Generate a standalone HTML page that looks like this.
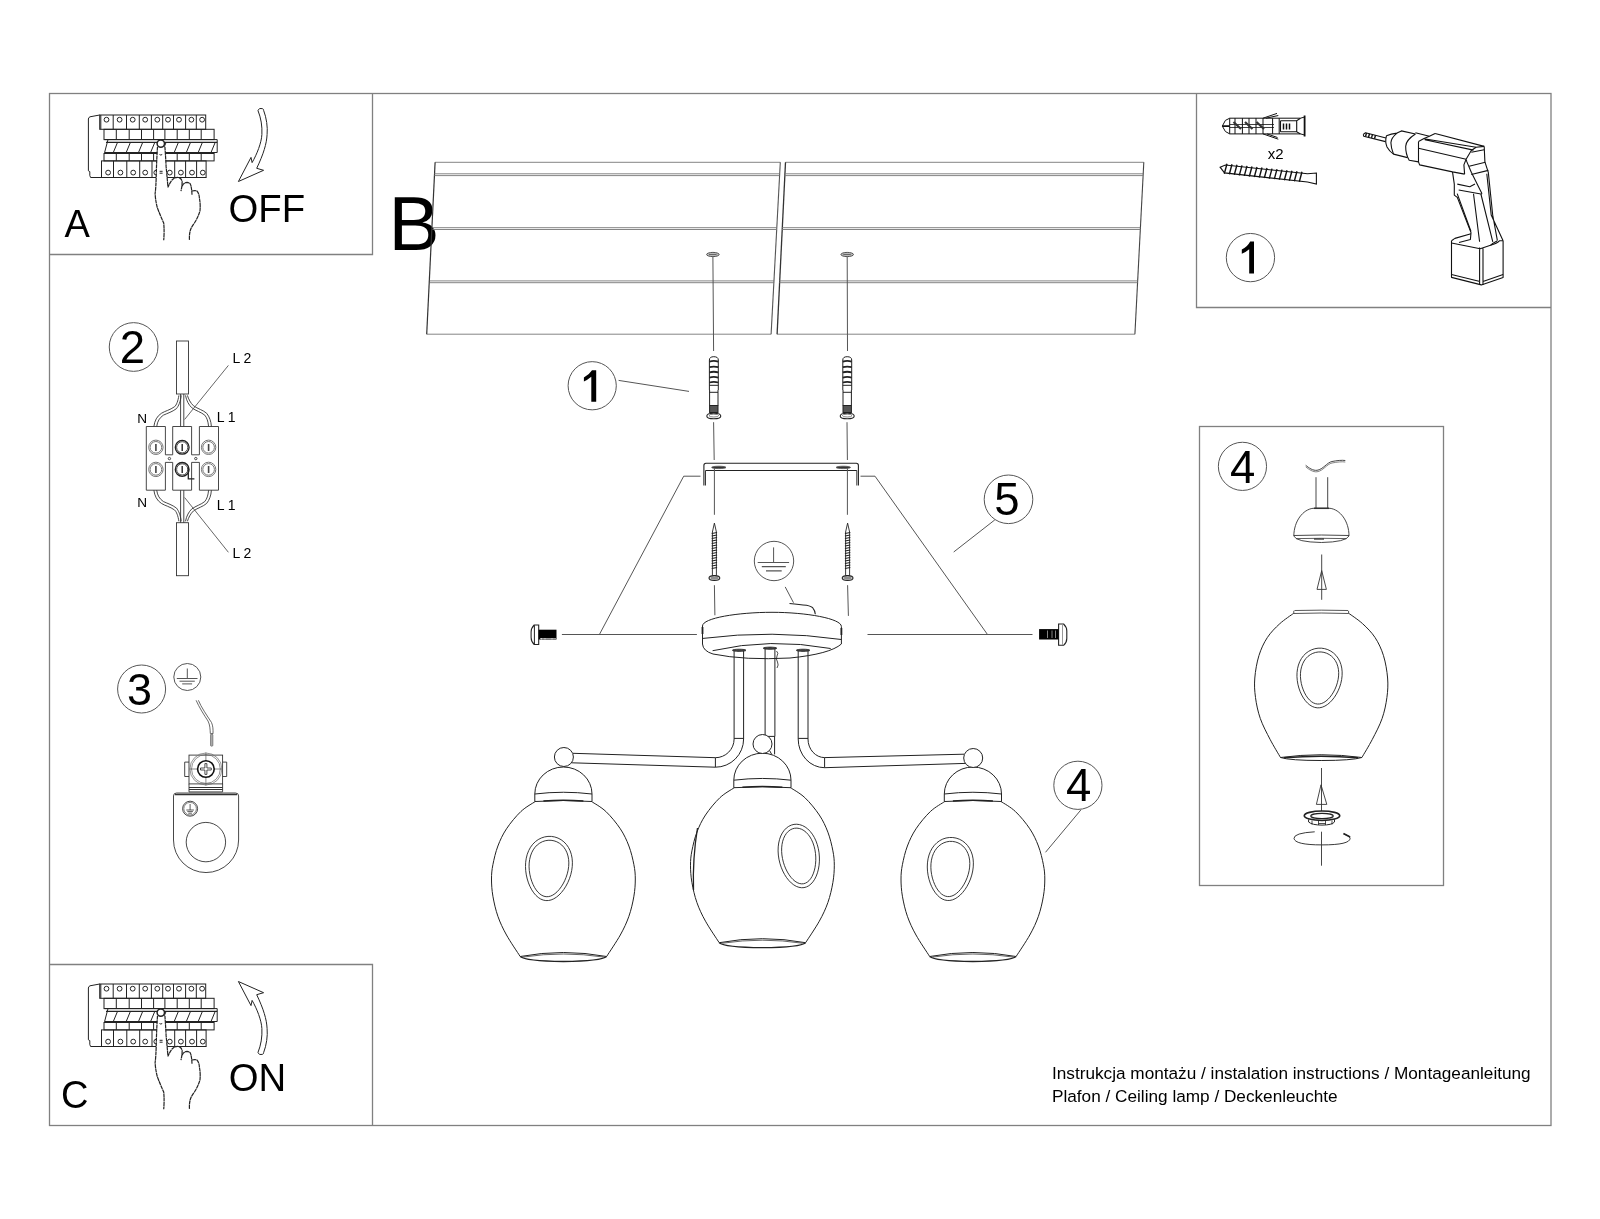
<!DOCTYPE html>
<html><head><meta charset="utf-8">
<style>
html,body{margin:0;padding:0;background:#fff;width:1600px;height:1219px;overflow:hidden}
svg{will-change:transform}
svg{display:block;fill:none;stroke-width:1}
text{font-family:"Liberation Sans",sans-serif;fill:#000;stroke:none}

.f{stroke:#808080;stroke-width:1.3}
.l{stroke:#555}
.d{stroke:#222}
.t{stroke:#666;stroke-width:0.8}
</style></head>
<body>
<svg width="1600" height="1219" viewBox="0 0 1600 1219">
<!-- frame -->
<rect class="f" x="49.5" y="93.5" width="1501.5" height="1032"/>
<path class="f" d="M372.5 93.5V254.5H49.5"/>
<path class="f" d="M49.5 964.5H372.5V1125.5"/>
<path class="f" d="M1196.5 93.5V307.5H1551"/>
<rect class="f" x="1199.5" y="426.5" width="244" height="459"/>

<!-- text -->
<text x="64.5" y="237.3" font-size="38">A</text>
<text x="61" y="1107.8" font-size="38">C</text>
<text x="228.5" y="222" font-size="38.3">OFF</text>
<text x="228.8" y="1091.2" font-size="38.3">ON</text>
<text x="388.5" y="249.7" font-size="76.5">B</text>
<text x="1052" y="1078.5" font-size="17.2">Instrukcja montażu / instalation instructions / Montageanleitung</text>
<text x="1052" y="1102" font-size="17.2">Plafon / Ceiling lamp / Deckenleuchte</text>

<!-- panel -->
<g id="pnl">
<path class="d" d="M99.7 115L90 116.8Q88.4 117.5 88.4 119V170.8L89.8 171.6V175.5L90.6 177.5H206.1"/>
<rect class="d" x="99.7" y="115" width="106" height="14.3"/>
<path class="d" d="M113.2 115V129.3"/>
<path class="d" d="M126.5 115V129.3"/>
<path class="d" d="M139.3 115V129.3"/>
<path class="d" d="M151.4 115V129.3"/>
<path class="d" d="M162.7 115V129.3"/>
<path class="d" d="M173.5 115V129.3"/>
<path class="d" d="M185.6 115V129.3"/>
<path class="d" d="M196.3 115V129.3"/>
<path class="d" d="M100.8 115V129.3"/>
<circle class="d" cx="106.5" cy="119.7" r="2.4"/>
<circle class="d" cx="119.6" cy="119.7" r="2.4"/>
<circle class="d" cx="132.7" cy="119.7" r="2.4"/>
<circle class="d" cx="145.2" cy="119.7" r="2.4"/>
<circle class="d" cx="157.3" cy="119.7" r="2.4"/>
<circle class="d" cx="168" cy="119.7" r="2.4"/>
<circle class="d" cx="179" cy="119.7" r="2.4"/>
<circle class="d" cx="191.4" cy="119.7" r="2.4"/>
<circle class="d" cx="202.1" cy="119.7" r="2.4"/>
<rect class="d" x="104" y="129.3" width="110.1" height="10.3"/>
<path class="d" d="M116.3 129.3V139.6"/>
<path class="d" d="M129.2 129.3V139.6"/>
<path class="d" d="M141.5 129.3V139.6"/>
<path class="d" d="M153.6 129.3V139.6"/>
<path class="d" d="M164.9 129.3V139.6"/>
<path class="d" d="M177.2 129.3V139.6"/>
<path class="d" d="M189.3 129.3V139.6"/>
<path class="d" d="M201.2 129.3V139.6"/>
<path class="d" d="M104.6 139.6H217.2V152.5H104.6"/>
<path class="d" d="M106 142.4H217.2" stroke-width="1.4"/>
<path class="d" d="M104.6 152.8H214.1" stroke-width="1.6"/>
<path class="d" d="M108 139.6L104.6 152.5"/>
<path class="d" d="M117.5 142.4L113.3 152.5"/>
<path class="d" d="M130.39999999999998 142.4L126.19999999999999 152.5"/>
<path class="d" d="M142.7 142.4L138.5 152.5"/>
<path class="d" d="M154.79999999999998 142.4L150.6 152.5"/>
<path class="d" d="M166.1 142.4L161.9 152.5"/>
<path class="d" d="M178.39999999999998 142.4L174.2 152.5"/>
<path class="d" d="M190.5 142.4L186.3 152.5"/>
<path class="d" d="M202.39999999999998 142.4L198.2 152.5"/>
<path class="d" d="M215.2 142.4L211 152.5"/>
<rect class="d" x="104" y="153.5" width="110.1" height="7.4"/>
<path class="d" d="M116.3 153.5V160.9"/>
<path class="d" d="M129.2 153.5V160.9"/>
<path class="d" d="M141.5 153.5V160.9"/>
<path class="d" d="M153.6 153.5V160.9"/>
<path class="d" d="M164.9 153.5V160.9"/>
<path class="d" d="M177.2 153.5V160.9"/>
<path class="d" d="M189.3 153.5V160.9"/>
<path class="d" d="M201.2 153.5V160.9"/>
<rect class="d" x="101.5" y="160.9" width="104.6" height="16.6"/>
<path class="d" d="M113.5 160.9V177.5"/>
<path class="d" d="M126.8 160.9V177.5"/>
<path class="d" d="M139.7 160.9V177.5"/>
<path class="d" d="M152 160.9V177.5"/>
<path class="d" d="M163.7 160.9V177.5"/>
<path class="d" d="M174.7 160.9V177.5"/>
<path class="d" d="M185.6 160.9V177.5"/>
<path class="d" d="M196.6 160.9V177.5"/>
<circle class="d" cx="108.1" cy="172.6" r="2.4"/>
<circle class="d" cx="120.4" cy="172.6" r="2.4"/>
<circle class="d" cx="133.2" cy="172.6" r="2.4"/>
<circle class="d" cx="145.2" cy="172.6" r="2.4"/>
<circle class="d" cx="156.3" cy="172.6" r="2.4"/>
<circle class="d" cx="169.8" cy="172.6" r="2.4"/>
<circle class="d" cx="180.9" cy="172.6" r="2.4"/>
<circle class="d" cx="192" cy="172.6" r="2.4"/>
<circle class="d" cx="202.8" cy="172.6" r="2.4"/>
<path fill="#fff" stroke="none" d="M157.5 146.8L156.3 173.8L155.1 193.5L157.5 208.3L163.7 223V240.3H189.5L190.7 229.2L194.4 223L200 210.7L199.4 198.4L196.9 191L192 191L190.7 184.9L187 182.4L182.1 186.1L182.1 181.2L178.4 177.5L173.5 178.7L168 187.4L166.1 166.4L164.9 146.8Z"/>
<path class="d" stroke-dasharray="4 0.4" stroke-width="1.2" d="M157.5 146.8Q156.6 160 156.3 173.8T155.1 193.5Q155.5 201 157.5 208.3Q160.5 216 163.7 223Q164.5 231 163.7 240.3"/>
<path class="d" stroke-dasharray="4 0.4" stroke-width="1.2" d="M164.9 146.8Q165.6 156 166.1 166.4L168 187.4Q170.5 181 173.5 178.7Q176 177 178.4 177.5Q181.5 178.5 182.1 181.2Q182.3 186 180.9 191.1"/>
<path class="d" stroke-dasharray="4 0.4" stroke-width="1.2" d="M182.1 186.1Q184 182.6 187 182.4Q190.3 182.8 190.7 184.9Q191.8 189 192 194.7"/>
<path class="d" stroke-dasharray="4 0.4" stroke-width="1.2" d="M192 191Q195 190.2 196.9 191Q199.3 193.5 199.4 198.4Q200.6 204 200 210.7Q198.3 217 194.4 223Q191.6 227 190.7 229.2Q189 234 189.5 240.3"/>
<circle fill="#fff" class="d" cx="160.8" cy="143.6" r="3.7" stroke-width="1.5"/>
<path class="d" d="M159.5 154.5Q160.8 155.6 162.2 154.5"/>
<path class="d" d="M159.6 171.3H162.6M159.6 173.2H162.6"/>
</g>
<use href="#pnl" transform="translate(0,869)"/>

<!-- arrows -->
<path id="arr" class="d" d="M257.9 110.3Q259.5 107.6 262.3 108.6Q263.9 109.3 263.6 110.3C266.5 118 267.8 127 267.1 134.4C266.6 144 263.5 154 256.7 168.3L263.6 170.3L238.4 181.5L251 157.4L252.1 162.6C257 154 261.4 143 261.9 134.4C262.3 126 261 118 257.9 110.3Z"/>
<use href="#arr" transform="translate(0,1163) scale(1,-1)"/>

<!-- ceiling -->
<g stroke="#777" stroke-width="0.9">
<path d="M435.1 162.3H780.3M426.7 334.2H771.1"/>
<path d="M435.1 162.3L426.7 334.2" stroke="#333" stroke-width="1.2"/>
<path d="M780.3 162.3L771.1 334.2" stroke="#555" stroke-width="1.1"/>
<path d="M785.5 162.3H1143.8M777.1 334.2H1134.9"/>
<path d="M1143.8 162.3L1134.9 334.2" stroke="#444" stroke-width="1.1"/>
<path d="M785.5 162.3L777.1 334.2" stroke="#333" stroke-width="1.3"/>
<path d="M434.4 173.8H779.7M434.4 175.6H779.6M784.9 173.8H1143.2M784.8 175.6H1143.1"/>
<path d="M432.5 227.7H777M432.5 229.5H777M782.1 227.7H1140.4M782.1 229.5H1140.4"/>
<path d="M429.9 280.9H774.2M429.9 282.7H774.2M779.3 280.9H1137.7M779.3 282.7H1137.7"/>
</g>
<ellipse cx="712.9" cy="254.5" rx="6.3" ry="2.1" fill="#bbb" stroke="#444" stroke-width="0.9"/>
<path d="M709 254.5H716.5" stroke="#444" stroke-width="0.7"/>
<ellipse cx="847.2" cy="254.5" rx="6.3" ry="2.1" fill="#bbb" stroke="#444" stroke-width="0.9"/>
<path d="M843.3 254.5H850.8" stroke="#444" stroke-width="0.7"/>
<path class="l" d="M712.9 256.6L713.6 351M847.2 256.6L847.5 351"/>

<!-- anchors -->
<g id="anc">
<path class="d" d="M709.4 390V360Q709.4 356.7 713.8 356.7Q718.3 356.7 718.3 360V390" stroke-width="1"/>
<path class="d" d="M709.4 361.6Q713.8 360.3 718.3 361.6M709.4 367.2Q713.8 365.9 718.3 367.2M709.4 372.4Q713.8 371.1 718.3 372.4M709.4 377.6Q713.8 376.3 718.3 377.6M709.4 382.5Q713.8 381.2 718.3 382.5" stroke-width="1.8"/>
<path class="d" d="M709.4 385.3H718.3M709.6 392.3H718"/>
<path class="d" d="M709.6 390V405.5M718 390V405.5"/>
<rect x="709.6" y="405.5" width="8.4" height="7" fill="#555" stroke="#222" stroke-width="1"/>
<ellipse class="d" cx="713.8" cy="416" rx="7" ry="2.8" fill="#fff" stroke-width="1.1"/>
<ellipse class="t" cx="713.8" cy="415.6" rx="4.8" ry="1.4"/>
</g>
<use href="#anc" transform="translate(133.4,0)"/>
<path class="l" d="M713.6 422.2L714.2 460M847 422.2L847.4 460"/>
<path class="l" d="M618.6 380.4L689 391.4"/>
<circle class="l" cx="592.2" cy="385.75" r="24.1"/>
<path d="M592 370.3H596.2V401.8H591.3V376.7Q587.5 379.8 583.9 381.6V377.4Q589 375 592 370.3Z" fill="#000"/>

<!-- bracket -->
<path class="d" d="M703.9 485.5V465.5Q703.9 463.3 706 463.3H856.3Q858.4 463.3 858.4 465.5V485.5" stroke-width="1.1"/>
<path class="d" d="M705.5 485.5V470.5H856.8V485.5" stroke-width="0.9"/>
<path class="d" d="M706 470.5H856.3"/>
<ellipse cx="718.8" cy="467.4" rx="7.2" ry="1.2" fill="#333" stroke="#555" stroke-width="0.8"/>
<ellipse cx="843.3" cy="467.4" rx="7.2" ry="1.2" fill="#333" stroke="#555" stroke-width="0.8"/>
<path class="l" d="M714.4 468.3V514.8M847.4 468.3V514.8"/>
<path class="l" d="M700.5 476.2H683.7L599.4 634.5M561.9 634.5H696.9"/>
<path class="l" d="M860.5 476.2H875L987.5 634.5M867.5 634.5H1032.5"/>
<g id="scr">
<path class="d" d="M712.4 532L714.4 523.1L716.4 532V575.5H712.4Z" stroke-width="0.9"/>
<path class="d" d="M711.7 533.5L717.1 532.5M711.7 536L717.1 535M711.7 538.5L717.1 537.5M711.7 541L717.1 540M711.7 543.5L717.1 542.5M711.7 546L717.1 545M711.7 548.5L717.1 547.5M711.7 551L717.1 550M711.7 553.5L717.1 552.5M711.7 556L717.1 555M711.7 558.5L717.1 557.5M711.7 561L717.1 560M711.7 563.5L717.1 562.5M711.7 566L717.1 565M711.7 568.5L717.1 567.5" stroke-width="1.2"/>
<ellipse cx="714.4" cy="578" rx="5.4" ry="2.4" fill="#ccc" stroke="#222" stroke-width="1.1"/>
<path d="M711 578H718" stroke="#333" stroke-width="0.8"/>
</g>
<use href="#scr" transform="translate(133.2,0)"/>
<path class="l" d="M714.4 585.2L714.9 615.3M847.6 585.2L848.4 615.9"/>
<circle class="l" cx="1008.5" cy="499.3" r="24.3"/>
<text x="994.2" y="515" font-size="45.5">5</text>
<path class="l" d="M994.8 519.9L953.7 552"/>
<path class="d" d="M538.7 625H534.2Q531.1 628 531.1 632V637.5Q531.1 641.5 534.2 644.5H538.7Z" stroke-width="1.1"/>
<path class="d" d="M534.4 625.2V644.3"/>
<rect x="538.7" y="629.7" width="17.8" height="9.8" fill="#000"/>
<path d="M540 638.5H556M541.5 638V639.5M545 638V639.5M552 638V639.5" stroke="#fff" stroke-width="0.6"/>
<path class="d" d="M1058.6 624H1063.6Q1066.8 627 1066.8 631V638.5Q1066.8 642.5 1063.6 645.3H1058.6Z" stroke-width="1.1"/>
<path d="M1062.5 624.5V645" stroke="#999" stroke-width="1"/>
<rect x="1039.1" y="629.1" width="19.5" height="10.4" fill="#000"/>
<path d="M1047.5 630.5V638M1052 630.5V638M1055.5 630.5V638" stroke="#bbb" stroke-width="0.7"/>
<circle class="l" cx="774" cy="561" r="19.7"/>
<path class="l" d="M773.6 547.4V562.5M757.7 562.5H789.1"/>
<path class="l" d="M761.8 566.7H785.8M766 570.8H781.7" stroke-width="1.3"/>
<path class="l" d="M785.2 586.9L793.5 602.7"/>
<path class="d" d="M789.5 603.5Q800 604.5 806.5 605.3Q812 606.5 813.1 608.3Q815.3 611 815.3 614.2" stroke-width="1.1"/>

<!-- canopy -->
<path class="d" d="M702.5 644V626C702.5 618 738 612.3 772 612.3C806 612.3 841.4 618.5 841.4 626.5V644"/>
<path class="d" d="M703 638.4Q772 629.5 841.4 639.5"/>
<path class="d" d="M702.5 644Q703 651 713 654Q745 660.5 790 658Q830 654 841.4 644"/>
<path class="d" d="M712.6 650.7Q770 637.5 830.7 648.5"/>
<path class="d" d="M702.5 627V634M841.4 628V635" stroke-width="1.8"/>
<path class="d" d="M734.1 650V739A18.7 18.7 0 0 1 715.4 757.7L573 753.3"/>
<path class="d" d="M743.6 650V739A28.2 28.2 0 0 1 715.4 767.2L571.6 762.8"/>
<path class="d" d="M715.4 757.7V767.2M734.1 738.4H743.6"/>
<path class="d" d="M808 650V739A16.6 18.6 0 0 0 824.6 757.6L964.1 754.2"/>
<path class="d" d="M798.2 650V739A26.4 28.7 0 0 0 824.6 767.7L965.5 763.4"/>
<path class="d" d="M824.6 757.6V767.7M798.2 738.4H808"/>
<path class="d" d="M765.1 647.5V736M774.9 647.5V736.4H767.7M774.6 736.4V754.4M769.4 750.2L771.7 754.4"/>
<path class="d" d="M776.5 651Q779 653 777 656Q775.5 659 777.5 662Q779 665 777 668" stroke-width="0.8"/>
<ellipse cx="739.2" cy="650.3" rx="6.8" ry="1.1" fill="#444" stroke="#222" stroke-width="0.8"/>
<ellipse cx="770" cy="648.2" rx="6.8" ry="1.1" fill="#444" stroke="#222" stroke-width="0.8"/>
<ellipse cx="803.1" cy="650.3" rx="6.8" ry="1.1" fill="#444" stroke="#222" stroke-width="0.8"/>
<defs><g id="shd"><path class="d" d="M-28.10 8.00C-30.50 9.67 -37.70 13.45 -42.50 18.00C-47.30 22.55 -53.07 29.55 -56.90 35.30C-60.73 41.05 -63.23 46.52 -65.50 52.50C-67.77 58.48 -69.43 65.70 -70.50 71.20C-71.57 76.70 -71.90 80.25 -71.90 85.50C-71.90 90.75 -71.57 96.48 -70.50 102.70C-69.43 108.92 -67.77 116.33 -65.50 122.80C-63.23 129.27 -60.62 134.80 -56.90 141.50C-53.18 148.20 -45.48 159.42 -43.20 163.00"/><path class="d" d="M43.20 163.00C45.48 159.42 53.18 148.20 56.90 141.50C60.62 134.80 63.23 129.27 65.50 122.80C67.77 116.33 69.43 108.92 70.50 102.70C71.57 96.48 71.90 90.75 71.90 85.50C71.90 80.25 71.57 76.70 70.50 71.20C69.43 65.70 67.77 58.48 65.50 52.50C63.23 46.52 60.73 41.05 56.90 35.30C53.07 29.55 47.30 22.55 42.50 18.00C37.70 13.45 30.50 9.67 28.10 8.00"/><path class="d" d="M-28.6 0.5A28.6 27 0 0 1 28.6 0.5"/><path class="d" d="M-28.6 0.5Q0 -3 28.6 0.5M-28.6 8Q0 6 28.6 8M-28.6 0.5V8M28.6 0.5V8"/><path class="d" d="M-20 7.5Q0 6 20 7.5" stroke-width="1.5"/><path class="d" d="M-43.2 163Q0 155 43.2 163"/><path class="d" d="M-40 163.5Q0 157.5 40 163.5" stroke-width="0.7"/><path class="d" d="M-43.2 163Q-38 167.5 0 168Q38 167.5 43.2 163" stroke-width="1.3"/></g></defs>
<use href="#shd" transform="translate(563.4,793.5)"/>
<use href="#shd" transform="translate(762.4,779.7)"/>
<use href="#shd" transform="translate(972.9,793.5)"/>
<circle cx="563.9" cy="757" r="9.5" fill="#fff" class="d"/>
<circle cx="762.5" cy="744" r="9.5" fill="#fff" class="d"/>
<circle cx="973.2" cy="758" r="9.5" fill="#fff" class="d"/>
<path class="d" stroke-width="0.9" d="M571.71 870.52 L570.76 874.66 L569.45 878.69 L567.82 882.55 L565.91 886.18 L563.78 889.50 L561.46 892.48 L558.99 895.05 L556.42 897.18 L553.79 898.82 L551.12 899.94 L548.45 900.53 L545.79 900.58 L543.19 900.07 L540.66 899.03 L538.22 897.45 L535.91 895.38 L533.76 892.84 L531.78 889.88 L530.01 886.55 L528.48 882.90 L527.24 879.00 L526.30 874.91 L525.71 870.72 L525.49 866.48 L525.66 862.27 L526.25 858.18 L527.26 854.26 L528.69 850.60 L530.52 847.24 L532.74 844.26 L535.31 841.69 L538.17 839.60 L541.29 838.00 L544.58 836.93 L547.98 836.40 L551.41 836.42 L554.79 836.99 L558.04 838.10 L561.10 839.73 L563.89 841.84 L566.35 844.41 L568.43 847.38 L570.10 850.70 L571.32 854.33 L572.09 858.19 L572.40 862.22 L572.27 866.35Z"/>
<path class="d" stroke-width="0.9" d="M568.13 870.21 L567.26 873.84 L566.09 877.38 L564.66 880.78 L563.01 883.96 L561.17 886.89 L559.20 889.51 L557.12 891.78 L554.96 893.66 L552.76 895.11 L550.54 896.11 L548.32 896.64 L546.13 896.69 L543.99 896.26 L541.90 895.35 L539.88 893.98 L537.97 892.17 L536.17 889.95 L534.51 887.36 L533.02 884.43 L531.73 881.23 L530.65 877.80 L529.83 874.21 L529.30 870.52 L529.07 866.79 L529.18 863.09 L529.65 859.49 L530.47 856.04 L531.66 852.81 L533.20 849.86 L535.07 847.23 L537.26 844.97 L539.71 843.12 L542.37 841.71 L545.20 840.76 L548.12 840.29 L551.07 840.31 L553.97 840.81 L556.77 841.77 L559.39 843.20 L561.77 845.05 L563.86 847.30 L565.62 849.90 L567.01 852.82 L568.01 855.99 L568.62 859.38 L568.83 862.92 L568.66 866.55Z"/>
<path class="d" stroke-width="0.9" d="M819.05 852.82 L819.40 857.00 L819.41 861.15 L819.09 865.22 L818.43 869.12 L817.47 872.80 L816.22 876.18 L814.69 879.22 L812.93 881.85 L810.94 884.04 L808.77 885.75 L806.45 886.94 L804.01 887.61 L801.48 887.73 L798.90 887.31 L796.31 886.36 L793.74 884.89 L791.25 882.93 L788.86 880.51 L786.62 877.68 L784.57 874.48 L782.75 870.97 L781.18 867.21 L779.90 863.25 L778.95 859.18 L778.34 855.04 L778.09 850.93 L778.21 846.89 L778.70 843.02 L779.56 839.36 L780.78 835.98 L782.34 832.94 L784.21 830.28 L786.35 828.07 L788.72 826.33 L791.29 825.10 L793.99 824.39 L796.78 824.23 L799.60 824.61 L802.40 825.53 L805.12 826.97 L807.72 828.92 L810.14 831.33 L812.34 834.16 L814.30 837.38 L815.96 840.91 L817.32 844.71 L818.35 848.71Z"/>
<path class="d" stroke-width="0.9" d="M815.49 853.39 L815.78 857.06 L815.78 860.71 L815.51 864.27 L814.98 867.69 L814.20 870.91 L813.19 873.87 L811.97 876.52 L810.55 878.81 L808.97 880.71 L807.23 882.18 L805.36 883.20 L803.40 883.75 L801.35 883.83 L799.27 883.44 L797.16 882.58 L795.06 881.26 L793.00 879.52 L791.02 877.38 L789.15 874.88 L787.41 872.06 L785.85 868.97 L784.49 865.66 L783.37 862.19 L782.51 858.61 L781.92 854.99 L781.64 851.39 L781.67 847.86 L782.02 844.46 L782.68 841.27 L783.65 838.31 L784.91 835.66 L786.45 833.35 L788.22 831.42 L790.20 829.91 L792.34 828.85 L794.60 828.25 L796.94 828.12 L799.31 828.47 L801.66 829.29 L803.94 830.58 L806.11 832.30 L808.13 834.44 L809.97 836.94 L811.59 839.78 L812.96 842.90 L814.08 846.25 L814.93 849.76Z"/>
<path class="d" stroke-width="0.9" d="M972.71 870.99 L971.78 875.05 L970.49 879.00 L968.89 882.79 L967.01 886.35 L964.92 889.62 L962.64 892.54 L960.22 895.06 L957.69 897.14 L955.10 898.75 L952.48 899.86 L949.85 900.44 L947.25 900.48 L944.69 899.98 L942.20 898.96 L939.81 897.41 L937.54 895.38 L935.41 892.89 L933.47 889.98 L931.73 886.71 L930.23 883.13 L929.01 879.30 L928.09 875.29 L927.50 871.17 L927.29 867.01 L927.46 862.89 L928.04 858.87 L929.03 855.03 L930.43 851.43 L932.23 848.14 L934.41 845.21 L936.93 842.69 L939.75 840.63 L942.81 839.06 L946.04 838.01 L949.38 837.50 L952.75 837.52 L956.08 838.08 L959.28 839.17 L962.28 840.77 L965.02 842.84 L967.44 845.36 L969.48 848.27 L971.12 851.54 L972.33 855.09 L973.08 858.88 L973.39 862.84 L973.26 866.89Z"/>
<path class="d" stroke-width="0.9" d="M969.13 870.67 L968.28 874.23 L967.13 877.70 L965.73 881.02 L964.11 884.14 L962.32 887.00 L960.38 889.57 L958.34 891.79 L956.23 893.63 L954.07 895.05 L951.90 896.02 L949.73 896.54 L947.59 896.59 L945.48 896.17 L943.43 895.28 L941.46 893.94 L939.59 892.17 L937.83 889.99 L936.20 887.45 L934.74 884.59 L933.47 881.46 L932.42 878.10 L931.62 874.59 L931.09 870.98 L930.87 867.33 L930.98 863.71 L931.43 860.18 L932.24 856.81 L933.40 853.64 L934.91 850.75 L936.75 848.18 L938.89 845.97 L941.28 844.16 L943.90 842.78 L946.66 841.85 L949.53 841.39 L952.41 841.41 L955.26 841.89 L958.00 842.84 L960.56 844.24 L962.90 846.05 L964.94 848.25 L966.67 850.80 L968.03 853.65 L969.01 856.76 L969.61 860.07 L969.82 863.54 L969.65 867.09Z"/>
<path class="d" d="M697.5 828Q692.5 858 693.5 890" stroke-width="1.3"/>
<circle class="l" cx="1077.9" cy="785.3" r="24.1"/>
<text x="1066.1" y="801" font-size="45.5">4</text>
<path class="l" d="M1080.9 809.9L1045.5 852.3"/>
<!-- box1 -->
<!-- wall plug -->
<g stroke="#111" fill="none" stroke-width="1">
<path d="M1229.7 118.2H1300.5M1229.7 133.9H1300.5M1229.7 118.2L1225.4 120.4L1222.3 126.1L1225.4 131.5L1229.7 133.9"/>
<path d="M1222.3 126.1H1229.7M1304.6 115.6V136.6" stroke-width="1.8"/>
<path d="M1300.5 118.2L1304.6 117M1300.5 133.9L1304.6 135"/>
<path d="M1229.7 118.2V133.9M1235 118.2V133.9M1242.4 118.2V133.9M1249 118.2V133.9M1256 118.2V133.9M1263 118.2V133.9M1272.6 118.2V133.9M1279.2 118.2V133.9"/>
<path d="M1229.7 124.5H1274M1229.7 127.5H1274" stroke-width="0.8"/>
<path d="M1233.5 122L1241 129M1245 122L1252.5 129M1256.5 122L1264 129" stroke-width="2.2" stroke="#333"/>
<path d="M1263 118.2L1277 113.4M1266 118.2L1278.3 115.5M1263 133.9L1278.3 139.2M1267 133.9L1277.5 137.5"/>
<path d="M1280.5 120.8H1296.7L1300.5 118.2M1280.5 131.8H1296.7L1300.5 133.9M1296.7 120.8V131.8M1280.5 120.8V131.8" stroke-width="1.1"/>
<path d="M1283.5 123.5V129.5M1286.5 123.5V129.5M1289.5 123.5V129.5" stroke-width="1.5"/>
</g>
<text x="1267.7" y="158.7" font-size="15">x2</text>
<!-- screw -->
<g stroke="#111" fill="none">
<path d="M1220.1 167.2L1225.4 165L1307.5 173.8L1316.4 173V184L1307.5 182L1224.5 172.9Z" stroke-width="1.1"/>
<path d="M1227 163.8L1224.3 173.8M1232 164.3L1229.3 174.3M1237 164.8L1234.3 174.8M1242 165.4L1239.3 175.4M1247 165.9L1244.3 175.9M1252 166.5L1249.3 176.5M1257 167L1254.3 177M1262 167.5L1259.3 177.5M1267 168L1264.3 178M1272 168.6L1269.3 178.6M1277 169.1L1274.3 179.1M1282 169.6L1279.3 179.6M1287 170.2L1284.3 180.2M1292 170.7L1289.3 180.7M1297 171.2L1294.3 181.2M1302 171.8L1299.3 181.8" stroke-width="1.4"/>
</g>
<!-- label 1 -->
<circle class="l" cx="1250.45" cy="257.6" r="24.15"/>
<path d="M1250.2 241.5H1254V273.5H1249.2V249.3Q1245.8 252.3 1241.8 253.8V249.6Q1247.3 247 1250.2 241.5Z" fill="#000"/>
<!-- drill -->
<g stroke="#111" fill="none" stroke-width="1.1" stroke-linejoin="round">
<path d="M1363.3 134.4L1365.5 132.7L1386 138M1363.3 134.4L1363.7 136.2L1385.5 141.6"/>
<path d="M1366.5 133L1365.5 136.5M1369.5 133.7L1368.5 137.2M1372.5 134.4L1371.5 137.9M1375.5 135.2L1374.5 138.7" stroke-width="1.4"/>
<path d="M1386.5 135.7Q1391 134 1397 133.1L1401.4 130.9L1415.4 134M1386.5 135.7Q1384.8 142 1387 147Q1389.5 151.5 1393.5 154.1L1407.5 157.6"/>
<path d="M1397 133.1Q1391 138 1390.9 142.7Q1391 148 1393.5 154.1"/>
<path d="M1415.4 134Q1406 140 1405.7 146.2Q1405.5 154 1409.2 160.2L1418.5 161.9"/>
<path d="M1415.4 132.7L1429.4 136.2L1435.1 133.5"/>
<path d="M1418.5 141.6L1424 138.5L1429.4 136.2"/>
<path d="M1435.1 133.5L1484.2 146.4M1424 138.7L1476.1 147.2M1424.8 139.8L1473.5 150.1M1418.5 148.3L1466.1 159.3"/>
<path d="M1418.5 141.6V161.9L1419.6 164.9L1452.5 171.9L1464.6 174.1"/>
<path d="M1466.1 159.3L1471.3 150.5L1476.1 147.2L1484.2 146.4M1471.3 152.3L1484.2 149.7"/>
<path d="M1466.1 159.3L1463.9 164.9L1464.6 174.1M1466.1 159.3L1466.9 161.9L1471.3 172.3L1482 193.7"/>
<path d="M1484.2 146.4L1484.9 161.9L1488.3 172.3L1492.7 215L1497.4 240.7M1486.8 173.7L1491.2 215L1503.1 240.7"/>
<path d="M1469.1 166.3L1485.3 162.3M1471.3 174.5L1488.3 170.4"/>
<path d="M1452.5 171.9L1454.3 184.1V195.1L1457.3 197.4L1471 232.6L1470.4 239.5L1459 242.5"/>
<path d="M1457.3 184.1L1469.8 186.7L1475 184.1M1458.7 190L1480.9 194M1482 193.7L1480.9 194"/>
<path d="M1473.5 193.7L1479.6 241.8M1480.9 194L1492.8 241.8M1457.2 193.6L1471 231.5"/>
<path d="M1451.5 240.7V277.4L1481.3 284.9L1503.1 277.4V240.7"/>
<path d="M1451.5 243L1480.2 248.7L1490.5 245.3Q1497 243.5 1499.7 240.7H1503.1M1454.9 238.4L1471 233.8M1451.5 240.7L1454.9 238.4M1479.6 247.6V284.9M1483 248.6V284.9M1451.5 274.5L1480 281.5M1483 281.5L1503.1 274.5"/>
<path d="M1490.5 245.3Q1493 243 1497 241"/>
</g>

<!-- box2 -->
<circle class="l" cx="133.6" cy="347" r="24.35"/>
<text x="119.7" y="363.2" font-size="45.5">2</text>
<g id="w2h" fill="none" stroke="#333" stroke-width="0.9">
<rect x="176.5" y="341" width="12" height="53" fill="#fff"/>
<path d="M178.9 395.4C178 401 176.5 405 174.6 406.7C170 410 165 411 161.4 413.3C157 416 154.5 421 153.9 426.5"/>
<path d="M181.2 395.4C180.5 402 178.5 406 176.5 408.6C172 412 168 413 163.3 415.2C159.5 418 157.5 421 156.7 426.5"/>
<path d="M185.5 395.4C186.5 401 189 405 191.6 407.6C196 411 201 412 204.8 415.2C207 418 208 421 208.6 426.5"/>
<path d="M187.4 395.4C188.5 399 190.5 403 193.5 405.8C198 409 203 410 206.7 413.3C209.5 417 211 421 211.4 426.5"/>
<path d="M180.6 394V426.5M183.8 394V426.5" stroke-width="0.9"/>
</g>
<use href="#w2h" transform="translate(0,916.7) scale(1,-1)"/>
<g fill="none" stroke="#333" stroke-width="0.9">
<path d="M146.3 426.5H165.4V454.8H172.7V426.5H191.6V454.8H199.4V426.5H218.5V490.2H199.4V462.4H191.6V490.2H172.7V462.4H165.4V490.2H146.3Z"/>
<circle cx="169.4" cy="458.6" r="1.2"/><circle cx="195.8" cy="458.6" r="1.2"/>
</g>
<g fill="none" stroke="#777" stroke-width="1">
<circle cx="155.9" cy="447.3" r="7.2"/><circle cx="155.9" cy="447.3" r="5.8"/>
<circle cx="155.9" cy="469.4" r="7.2"/><circle cx="155.9" cy="469.4" r="5.8"/>
<circle cx="208.6" cy="447.3" r="7.2"/><circle cx="208.6" cy="447.3" r="5.8"/>
<circle cx="208.6" cy="469.4" r="7.2"/><circle cx="208.6" cy="469.4" r="5.8"/>
<path d="M155.9 444V451M155.9 466V473M208.6 444V451M208.6 466V473" stroke="#444" stroke-width="1.6"/>
</g>
<g fill="none" stroke="#222" stroke-width="1.3">
<circle cx="182.2" cy="447.3" r="6.9"/><circle cx="182.2" cy="447.3" r="5.6" stroke-width="0.8"/>
<circle cx="182.2" cy="469.4" r="6.9"/><circle cx="182.2" cy="469.4" r="5.6" stroke-width="0.8"/>
<path d="M182.2 444V451M182.2 466V473" stroke-width="1.4"/>
<path d="M188.3 467V478.9H194.4"/>
</g>
<path class="l" d="M228.4 365.4L184.6 419.5M184.6 497.5L228.4 552.3" stroke-width="0.9"/>
<g font-size="13.6">
<text x="137.3" y="423">N</text>
<text x="137.3" y="507">N</text>
</g>
<g font-size="14">
<text x="216.7" y="421.7">L 1</text>
<text x="216.7" y="510">L 1</text>
<text x="232.4" y="363">L 2</text>
<text x="232.4" y="558">L 2</text>
</g>

<!-- box3 -->
<circle class="l" cx="141.6" cy="689" r="24"/>
<text x="127" y="705" font-size="45">3</text>
<circle class="l" cx="187.3" cy="677" r="13.5"/>
<path class="l" d="M187.3 668.5V678.5M176.8 678.5H197.5M179.5 681.2H194.8M182.2 683.9H192.1"/>
<path d="M196.1 700.3C199 707 204 715 208 721C210 725 210.1 729 210.3 733.5" stroke="#444" stroke-width="0.8"/>
<path d="M198.4 700.3C201 707 207 715.5 211.5 722.5C213 726 213.2 729.5 213 733.8" stroke="#444" stroke-width="0.8"/>
<path d="M210.3 733.8H213" stroke="#333" stroke-width="0.9"/>
<rect x="210.5" y="734.2" width="2.4" height="12" rx="1" fill="#aaa" stroke="#555" stroke-width="0.6"/>
<g fill="none" stroke="#333" stroke-width="0.9">
<rect x="189" y="755.1" width="33.6" height="28.8"/>
<path d="M189 762.1H184.7V776.5H189M222.6 762.1H226.7V776.5H222.6"/>
<circle cx="205.9" cy="769" r="16" stroke="#666" stroke-width="0.7"/>
<circle cx="205.9" cy="769" r="14.4" stroke="#666" stroke-width="0.7"/>
<path d="M205.9 752.5V785.5M189.5 769H222.3" stroke="#555" stroke-width="0.7"/>
<circle cx="205.9" cy="769" r="8.3" stroke="#111" stroke-width="1.6" fill="#fff"/>
<path d="M204.9 763.6H206.9V768H211.3V770H206.9V774.4H204.9V770H200.5V768H204.9Z" stroke="#222" stroke-width="0.8"/>
<path d="M189 783.9V791.9H222.6V783.9"/>
<path d="M189 787.5H222.6M189 789.5H222.6" stroke-width="1.2"/>
<path d="M176.5 793H235.6Q238.6 793 238.6 796V840A32.5 32.5 0 0 1 173.5 840V796Q173.5 793 176.5 793Z"/>
<path d="M175 794.5H237" stroke-width="1.3"/>
<circle cx="205.9" cy="842.1" r="19.7"/>
<circle cx="190.1" cy="808.7" r="7.5"/>
<circle cx="190.1" cy="808.7" r="6.3" stroke-width="0.6"/>
<path d="M190.1 804V810M186.3 810H193.9M187.3 811.6H192.9M188.3 813.2H191.9" stroke-width="0.8"/>
</g>

<!-- box4 -->
<circle class="l" cx="1242.45" cy="466.35" r="24.1"/>
<text x="1230.1" y="482.8" font-size="45.5">4</text>
<g fill="none" stroke="#333" stroke-width="0.9">
<path d="M1305.7 465.3C1309 468 1313 470.8 1317 470.3C1323 469.5 1327 462.5 1332 461.5C1337 460.5 1342 460 1345.3 460.5"/>
<path d="M1305.7 466.8C1309 469.5 1313 472.2 1317 471.8C1323 471 1327 464 1332 463C1337 462 1342 461.5 1345.3 462" stroke-width="0.6"/>
<path d="M1316 477.2V508.3M1327.7 477.2V508.3"/>
<path d="M1293.8 536C1294 521 1303 509.5 1313 508.3H1330C1340 509.5 1349 521 1349 536"/>
<path d="M1314 508.3H1329" stroke-width="1.5"/>
<path d="M1293.8 535.5Q1321.4 534.5 1349 535.5M1293.8 536Q1296 542 1321.4 542.5Q1346 542 1349 536"/>
<path d="M1296 538.6Q1321.4 538 1346.5 538.6" stroke-width="0.8"/>
<path d="M1314 539H1324" stroke-width="1.3"/>
<path d="M1321.7 554.5V599.8M1321.7 570.6L1317 589.4H1326.4Z"/>
<path d="M1321.5 768V820M1321 784.8L1316.4 804.4H1326.8Z"/>
</g>
<path class="d" d="M1293.80 613.20C1291.47 614.95 1284.22 619.63 1279.80 623.70C1275.38 627.77 1270.78 632.27 1267.30 637.60C1263.82 642.93 1260.98 648.97 1258.90 655.70C1256.82 662.43 1255.37 671.02 1254.80 678.00C1254.23 684.98 1254.58 690.85 1255.50 697.60C1256.42 704.35 1257.87 711.53 1260.30 718.50C1262.73 725.47 1266.73 732.90 1270.10 739.40C1273.47 745.90 1278.77 754.48 1280.50 757.50"/>
<path class="d" d="M1361.90 757.50C1363.63 754.48 1368.93 745.90 1372.30 739.40C1375.67 732.90 1379.67 725.47 1382.10 718.50C1384.53 711.53 1385.98 704.35 1386.90 697.60C1387.82 690.85 1388.17 684.98 1387.60 678.00C1387.03 671.02 1385.58 662.43 1383.50 655.70C1381.42 648.97 1378.58 642.93 1375.10 637.60C1371.62 632.27 1367.02 627.77 1362.60 623.70C1358.18 619.63 1350.93 614.95 1348.60 613.20"/>
<path d="M1293.8 613.5Q1321.2 612.5 1348.6 613.5M1294.5 610.5Q1321.2 609.8 1348 610.5M1293.8 610.8V613.5M1348.6 610.8V613.5" stroke="#444" stroke-width="0.9"/>
<path class="d" d="M1280.5 757.5Q1321.2 752 1361.9 757.5M1280.5 757.5Q1290 760.5 1321.2 760.5Q1352 760.5 1361.9 757.5"/>
<path class="d" d="M1284 757.8Q1321.2 754.5 1358 757.8" stroke-width="1.5"/>
<path class="d" stroke-width="0.9" d="M1341.65 679.56 L1340.81 683.42 L1339.62 687.18 L1338.12 690.79 L1336.35 694.18 L1334.36 697.30 L1332.17 700.09 L1329.85 702.52 L1327.41 704.52 L1324.90 706.08 L1322.34 707.16 L1319.77 707.75 L1317.21 707.83 L1314.69 707.39 L1312.23 706.46 L1309.85 705.03 L1307.58 703.14 L1305.45 700.81 L1303.48 698.09 L1301.71 695.02 L1300.16 691.65 L1298.88 688.04 L1297.90 684.26 L1297.25 680.37 L1296.95 676.44 L1297.04 672.53 L1297.53 668.72 L1298.43 665.07 L1299.73 661.65 L1301.44 658.50 L1303.52 655.70 L1305.95 653.29 L1308.68 651.30 L1311.65 649.77 L1314.80 648.73 L1318.08 648.20 L1321.39 648.17 L1324.66 648.66 L1327.82 649.64 L1330.81 651.11 L1333.54 653.04 L1335.96 655.39 L1338.03 658.12 L1339.70 661.18 L1340.95 664.53 L1341.77 668.10 L1342.15 671.84 L1342.10 675.68Z"/>
<path class="d" stroke-width="0.9" d="M1338.15 679.32 L1337.39 682.68 L1336.33 685.96 L1335.02 689.11 L1333.49 692.07 L1331.78 694.80 L1329.93 697.24 L1327.97 699.36 L1325.93 701.12 L1323.83 702.49 L1321.71 703.44 L1319.59 703.96 L1317.48 704.04 L1315.40 703.67 L1313.37 702.86 L1311.40 701.62 L1309.52 699.97 L1307.74 697.95 L1306.09 695.58 L1304.60 692.90 L1303.29 689.96 L1302.18 686.82 L1301.32 683.51 L1300.74 680.12 L1300.45 676.68 L1300.48 673.27 L1300.85 669.94 L1301.58 666.75 L1302.66 663.75 L1304.08 661.01 L1305.84 658.56 L1307.90 656.45 L1310.23 654.71 L1312.77 653.37 L1315.47 652.46 L1318.28 651.99 L1321.12 651.96 L1323.93 652.38 L1326.65 653.24 L1329.20 654.52 L1331.53 656.20 L1333.59 658.24 L1335.33 660.62 L1336.73 663.29 L1337.76 666.21 L1338.42 669.32 L1338.69 672.58 L1338.60 675.93Z"/>
<g fill="none" stroke="#222">
<path d="M1308.6 819.4V822Q1312 825.1 1322 825.1Q1332 825.1 1334.5 822V819.4" stroke-width="1"/>
<path d="M1312 820.5V824.5M1318.5 821V825M1325.5 821V825M1332 820.5V824.5M1318.5 823.5H1325.5" stroke-width="0.8"/>
<ellipse cx="1322" cy="815.7" rx="17.7" ry="4.7" stroke-width="1.7" fill="#fff"/>
<ellipse cx="1322" cy="815.9" rx="11.3" ry="2.6" stroke-width="1.2"/>
<path d="M1314.7 831.8Q1294 833 1294 838.3Q1294.5 844.9 1322 844.9Q1350 844.9 1350.1 838.3Q1350 836 1343.5 834" stroke-width="0.9"/>
<path d="M1343.5 833.5L1350.1 837" stroke-width="1.6"/>
<path d="M1321.5 831.7V865.7" stroke-width="0.9" stroke="#333"/>
</g>
</svg>
</body></html>
